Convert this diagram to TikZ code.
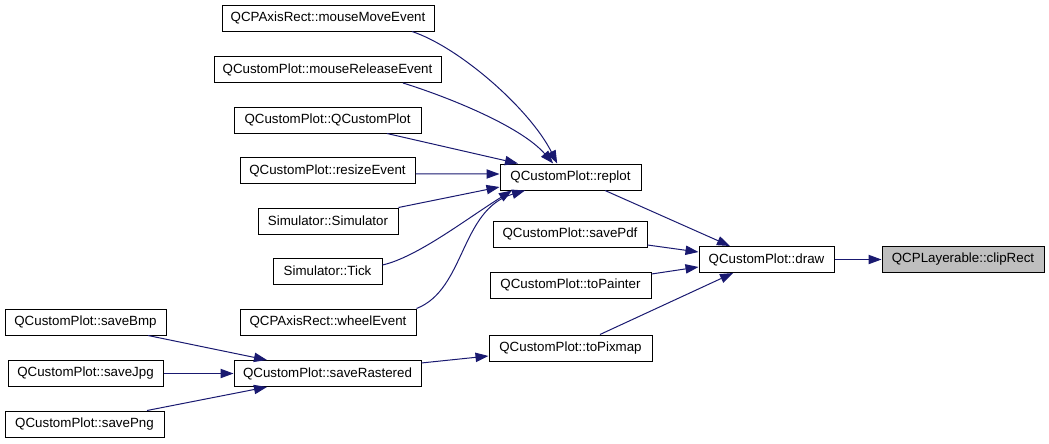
\documentclass[tikz,border=0pt]{standalone}
\usepackage{fontspec}
\setmainfont{Liberation Sans}
\usetikzlibrary{arrows.meta}
\definecolor{edgeblue}{HTML}{191970}
\definecolor{hlgray}{HTML}{BFBFBF}
\begin{document}
\begin{tikzpicture}[x=0.75pt,y=-0.75pt,
  box/.style={draw=black,line width=0.75pt,fill=white,inner sep=0pt,minimum height=19.5pt,
    font=\fontsize{10}{12}\selectfont,anchor=center},
  hl/.style={box,fill=hlgray},
  edge/.style={draw=edgeblue,line width=0.75pt,-{Triangle[length=9.75pt,width=7pt]}}]
\useasboundingbox (0,0) rectangle (1049,443);
% column 2
\node[box,minimum width=159pt] (mmove) at (328,18) {QCPAxisRect::mouseMoveEvent};
\node[box,minimum width=170.25pt] (mrel) at (327.5,69.5) {QCustomPlot::mouseReleaseEvent};
\node[box,minimum width=140.25pt] (qcp) at (327.5,120) {QCustomPlot::QCustomPlot};
\node[box,minimum width=131.25pt] (resize) at (327.5,170.5) {QCustomPlot::resizeEvent};
\node[box,minimum width=105pt] (sim) at (328,221) {Simulator::Simulator};
\node[box,minimum width=81.75pt] (tick) at (327.5,271) {Simulator::Tick};
\node[box,minimum width=132pt] (wheel) at (328,322) {QCPAxisRect::wheelEvent};
\node[box,minimum width=140.25pt] (raster) at (327.5,373.5) {QCustomPlot::saveRastered};
% column 1
\node[box,minimum width=120.75pt] (bmp) at (85.5,322) {QCustomPlot::saveBmp};
\node[box,minimum width=116.25pt] (jpg) at (85.5,373.5) {QCustomPlot::saveJpg};
\node[box,minimum width=119.25pt] (png) at (84.5,424) {QCustomPlot::savePng};
% column 3
\node[box,minimum width=105.75pt] (replot) at (570.5,177) {QCustomPlot::replot};
\node[box,minimum width=115.5pt] (pdf) at (570,234) {QCustomPlot::savePdf};
\node[box,minimum width=120.75pt] (painter) at (570.5,285) {QCustomPlot::toPainter};
\node[box,minimum width=122.25pt] (pixmap) at (570.5,348) {QCustomPlot::toPixmap};
% column 4, 5
\node[box,minimum width=101.25pt] (draw) at (766.5,259.5) {QCustomPlot::draw};
\node[hl,minimum width=121.5pt] (clip) at (963,259.5) {QCPLayerable::clipRect};
% edges into replot
\draw[edge] ([xshift=63pt]mmove.south) .. controls +(48,16) and +(-27,-54) .. ([xshift=-10pt]replot.north);
\draw[edge] ([xshift=56.6pt]mrel.south) .. controls +(42,13) and +(-33,-38) .. ([xshift=-13pt]replot.north);
\draw[edge] ([xshift=44.6pt]qcp.south) -- ([xshift=-39.4pt]replot.north);
\draw[edge] ([yshift=-2.6pt]resize.east) -- ([yshift=2.25pt]replot.west);
\draw[edge] (sim.north east) -- ([yshift=-7.5pt]replot.west);
\draw[edge] ([yshift=4.5pt]tick.east) .. controls +(35,-8) and +(-45,28) .. ([xshift=-43.9pt]replot.south);
\draw[edge] (wheel.north east) .. controls +(49,-19) and +(-65,19) .. ([xshift=-34.1pt]replot.south);
% edges into draw
\draw[edge] ([xshift=25.9pt]replot.south) -- ([xshift=-27.4pt]draw.north);
\draw[edge] ([yshift=-8.25pt]pdf.east) -- ([yshift=5.6pt]draw.west);
\draw[edge] ([yshift=8.25pt]painter.east) -- ([yshift=-5.6pt]draw.west);
\draw[edge] ([xshift=22.1pt]pixmap.north) -- ([xshift=-25.1pt]draw.south);
\draw[edge] (draw.east) -- (clip.west);
% saveRastered chain
\draw[edge] ([yshift=7.9pt]raster.east) -- ([yshift=-6pt]pixmap.west);
\draw[edge] ([xshift=46.9pt]bmp.south) -- ([xshift=-45.4pt]raster.north);
\draw[edge] (jpg.east) -- (raster.west);
\draw[edge] ([xshift=46.9pt]png.north) -- ([xshift=-45.4pt]raster.south);
\end{tikzpicture}
\end{document}
